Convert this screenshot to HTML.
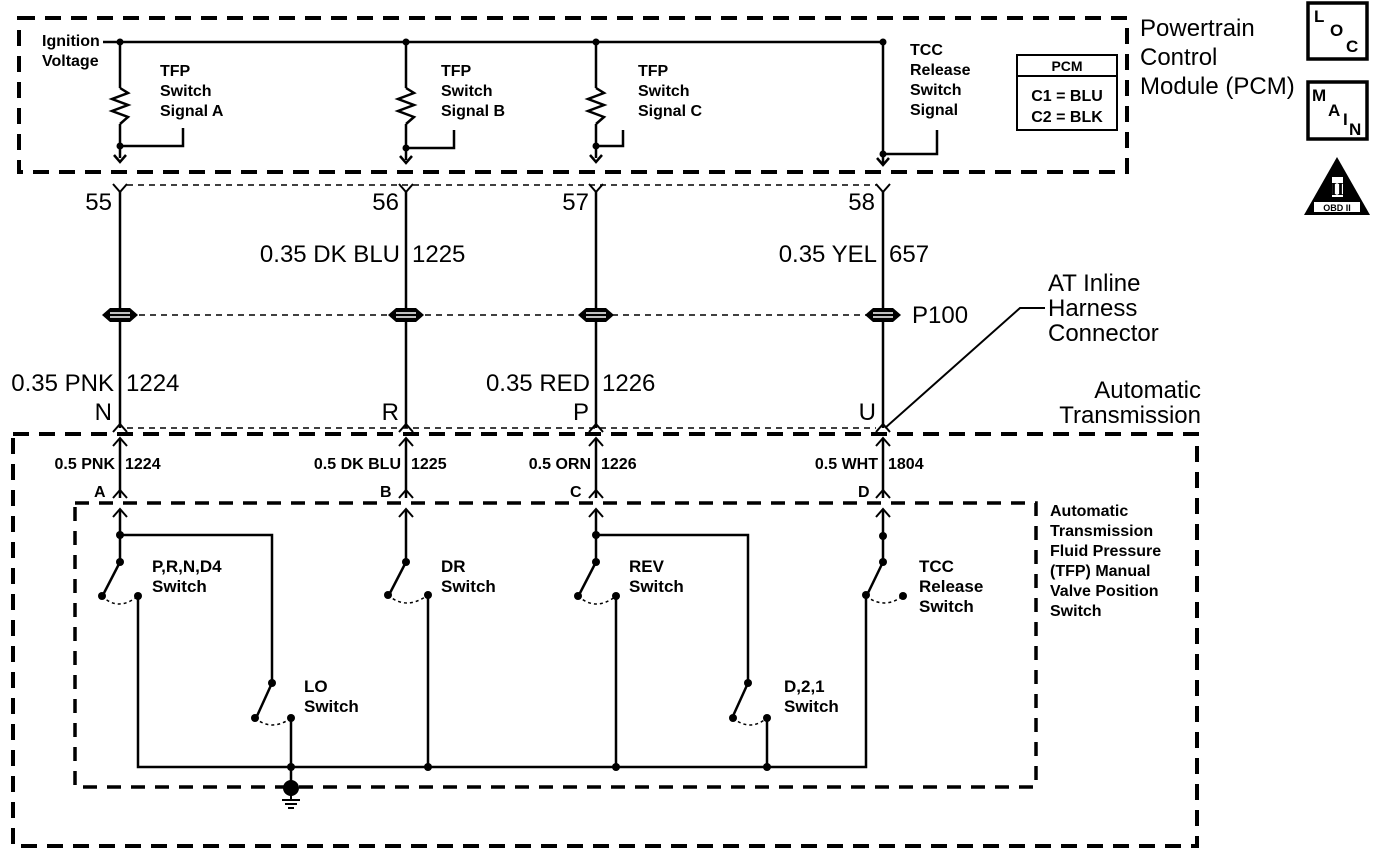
<!DOCTYPE html>
<html><head><meta charset="utf-8"><style>
html,body{margin:0;padding:0;background:#fff;}
svg{display:block;font-family:"Liberation Sans",Arial,sans-serif;}
</style></head><body>
<svg width="1392" height="856" viewBox="0 0 1392 856" xmlns="http://www.w3.org/2000/svg">
<g fill="none" stroke="#000">
<path d="M19 18 H1127 V172 H19 Z" stroke-width="4" stroke-dasharray="16 10"/>
<path d="M103 42 H883" stroke-width="2.5"/>
<g stroke-width="2.5">
<path d="M120 42 V88 M120 124 V158"/>
<path d="M406 42 V88 M406 124 V160"/>
<path d="M596 42 V88 M596 124 V158"/>
<path d="M883 42 V165"/>
<path d="M120 146 H183 V128"/>
<path d="M406 148 H454 V130"/>
<path d="M596 146 H623 V130"/>
<path d="M883 154 H937 V130"/>
</g>
<g stroke-width="2.5">
<path d="M120 88 L128 93 L112 99 L128 105 L112 111 L128 117 L120 124"/>
<path d="M406 88 L414 93 L398 99 L414 105 L398 111 L414 117 L406 124"/>
<path d="M596 88 L604 93 L588 99 L604 105 L588 111 L604 117 L596 124"/>
</g>
<g stroke-width="2.5">
<path d="M114 155 L120 162 L126 155"/>
<path d="M400 156 L406 163 L412 156"/>
<path d="M590 155 L596 162 L602 155"/>
<path d="M877 158 L883 165 L889 158"/>
</g>
<path d="M127 185 H876" stroke-width="1.5" stroke-dasharray="6 5"/>
<g stroke-width="2">
<path d="M113 184 L120 192 L127 184"/>
<path d="M399 184 L406 192 L413 184"/>
<path d="M589 184 L596 192 L603 184"/>
<path d="M876 184 L883 192 L890 184"/>
</g>
<g stroke-width="2.5">
<path d="M120 192 V428"/>
<path d="M406 192 V428"/>
<path d="M596 192 V428"/>
<path d="M883 192 V428"/>
</g>
<path d="M128 315 H870" stroke-width="1.5" stroke-dasharray="6 5"/>
<path d="M885 428 L1020 308 H1045" stroke-width="2"/>
<path d="M13 434 H1197 V846 H13 Z" stroke-width="4" stroke-dasharray="16 10"/>
<path d="M127 428 H876" stroke-width="1.5" stroke-dasharray="6 5"/>
<g stroke-width="2">
<path d="M113 432 L120 424 L127 432"/>
<path d="M399 432 L406 424 L413 432"/>
<path d="M589 432 L596 424 L603 432"/>
<path d="M876 432 L883 424 L890 432"/>
<path d="M113 446 L120 438 L127 446"/>
<path d="M399 446 L406 438 L413 446"/>
<path d="M589 446 L596 438 L603 446"/>
<path d="M876 446 L883 438 L890 446"/>
</g>
<g stroke-width="2.5">
<path d="M120 438 V498 M406 438 V498 M596 438 V498 M883 438 V498"/>
</g>
<g stroke-width="2">
<path d="M113 498 L120 490 L127 498"/>
<path d="M399 498 L406 490 L413 498"/>
<path d="M589 498 L596 490 L603 498"/>
<path d="M876 498 L883 490 L890 498"/>
<path d="M113 517 L120 509 L127 517"/>
<path d="M399 517 L406 509 L413 517"/>
<path d="M589 517 L596 509 L603 517"/>
<path d="M876 517 L883 509 L890 517"/>
</g>
<path d="M75 503 H1036 V787 H75 Z" stroke-width="3.5" stroke-dasharray="14 10"/>
<g stroke-width="2.5">
<path d="M120 509 V562 M406 509 V562 M596 509 V562 M883 509 V562"/>
<path d="M120 535 H272 V683"/>
<path d="M596 535 H748 V683"/>
<path d="M138 596 V767 H866 V595"/>
<path d="M291 718 V788"/>
<path d="M428 595 V767"/>
<path d="M616 596 V767"/>
<path d="M767 718 V767"/>
<path d="M120 562 L104 593"/>
<path d="M406 562 L390 593"/>
<path d="M596 562 L580 593"/>
<path d="M883 562 L868 593"/>
<path d="M272 683 L257 716"/>
<path d="M748 683 L733 716"/>
</g>
<g stroke-width="1.5" stroke-dasharray="3 3">
<path d="M102 596 Q118 612 138 596"/>
<path d="M388 595 Q406 611 428 595"/>
<path d="M578 596 Q596 612 616 596"/>
<path d="M866 596 Q884 610 903 596"/>
<path d="M255 718 Q272 732 291 718"/>
<path d="M733 718 Q750 732 767 718"/>
</g>
<g stroke-width="2"><path d="M282 800 H300 M285 804 H297 M288 808 H294"/><path d="M291 790 V800"/></g>
<rect x="1017" y="55" width="100" height="75" stroke-width="2"/>
<path d="M1017 76 H1117" stroke-width="2"/>
<rect x="1308" y="3" width="59" height="56" stroke-width="3.5"/>
<rect x="1308" y="82" width="59" height="57" stroke-width="3.5"/>
</g>
<g fill="#000">
<g><path d="M102 315 L110 308 H130 L138 315 L130 322 H110 Z"/><path d="M110 313 H130 M110 317 H130" stroke="#fff" stroke-width="1.5"/></g>
<g transform="translate(286,0)"><path d="M102 315 L110 308 H130 L138 315 L130 322 H110 Z"/><path d="M110 313 H130 M110 317 H130" stroke="#fff" stroke-width="1.5"/></g>
<g transform="translate(476,0)"><path d="M102 315 L110 308 H130 L138 315 L130 322 H110 Z"/><path d="M110 313 H130 M110 317 H130" stroke="#fff" stroke-width="1.5"/></g>
<g transform="translate(763,0)"><path d="M102 315 L110 308 H130 L138 315 L130 322 H110 Z"/><path d="M110 313 H130 M110 317 H130" stroke="#fff" stroke-width="1.5"/></g>
<circle cx="120" cy="42" r="3.5"/><circle cx="406" cy="42" r="3.5"/><circle cx="596" cy="42" r="3.5"/><circle cx="883" cy="42" r="3.5"/>
<circle cx="120" cy="146" r="3.5"/><circle cx="406" cy="148" r="3.5"/><circle cx="596" cy="146" r="3.5"/><circle cx="883" cy="154" r="3.5"/>
<circle cx="120" cy="535" r="4"/><circle cx="596" cy="535" r="4"/><circle cx="883" cy="536" r="4"/>
<circle cx="120" cy="562" r="4"/><circle cx="406" cy="562" r="4"/><circle cx="596" cy="562" r="4"/><circle cx="883" cy="562" r="4"/>
<circle cx="102" cy="596" r="4"/><circle cx="138" cy="596" r="4"/>
<circle cx="388" cy="595" r="4"/><circle cx="428" cy="595" r="4"/>
<circle cx="578" cy="596" r="4"/><circle cx="616" cy="596" r="4"/>
<circle cx="866" cy="595" r="4"/><circle cx="903" cy="596" r="4"/>
<circle cx="272" cy="683" r="4"/><circle cx="255" cy="718" r="4"/><circle cx="291" cy="718" r="4"/>
<circle cx="748" cy="683" r="4"/><circle cx="733" cy="718" r="4"/><circle cx="767" cy="718" r="4"/>
<circle cx="291" cy="767" r="4"/><circle cx="428" cy="767" r="4"/><circle cx="616" cy="767" r="4"/><circle cx="767" cy="767" r="4"/>
<circle cx="291" cy="788" r="8"/>
<path d="M1337 157 L1370 215 H1304 Z"/>
</g>
<rect x="1314" y="202" width="46" height="10" fill="#fff"/>
<text x="1337" y="211" font-size="9" font-weight="bold" text-anchor="middle">OBD II</text>
<rect x="1332" y="177" width="11" height="20" fill="#fff"/>
<text x="1337" y="195" font-size="18" font-weight="bold" text-anchor="middle" font-family="Liberation Serif">II</text>
<g font-size="16" font-weight="bold" fill="#000">
<text x="42" y="46">Ignition</text><text x="42" y="66">Voltage</text>
<text x="160" y="76">TFP</text><text x="160" y="96">Switch</text><text x="160" y="116">Signal A</text>
<text x="441" y="76">TFP</text><text x="441" y="96">Switch</text><text x="441" y="116">Signal B</text>
<text x="638" y="76">TFP</text><text x="638" y="96">Switch</text><text x="638" y="116">Signal C</text>
<text x="910" y="55">TCC</text><text x="910" y="75">Release</text><text x="910" y="95">Switch</text><text x="910" y="115">Signal</text>
<text x="1067" y="71" font-size="14" text-anchor="middle">PCM</text>
<text x="1067" y="101" text-anchor="middle">C1 = BLU</text>
<text x="1067" y="122" text-anchor="middle">C2 = BLK</text>
<text x="1050" y="516">Automatic</text><text x="1050" y="536">Transmission</text>
<text x="1050" y="556">Fluid Pressure</text><text x="1050" y="576">(TFP) Manual</text>
<text x="1050" y="596">Valve Position</text><text x="1050" y="616">Switch</text>
</g>
<g font-size="17" font-weight="bold">
<text x="152" y="572">P,R,N,D4</text><text x="152" y="592">Switch</text>
<text x="441" y="572">DR</text><text x="441" y="592">Switch</text>
<text x="629" y="572">REV</text><text x="629" y="592">Switch</text>
<text x="919" y="572">TCC</text><text x="919" y="592">Release</text><text x="919" y="612">Switch</text>
<text x="304" y="692">LO</text><text x="304" y="712">Switch</text>
<text x="784" y="692">D,2,1</text><text x="784" y="712">Switch</text>
</g>
<g font-size="16" font-weight="bold">
<text x="115" y="469" text-anchor="end">0.5 PNK</text><text x="125" y="469">1224</text>
<text x="401" y="469" text-anchor="end">0.5 DK BLU</text><text x="411" y="469">1225</text>
<text x="591" y="469" text-anchor="end">0.5 ORN</text><text x="601" y="469">1226</text>
<text x="878" y="469" text-anchor="end">0.5 WHT</text><text x="888" y="469">1804</text>
<text x="94" y="497">A</text><text x="380" y="497">B</text><text x="570" y="497">C</text><text x="858" y="497">D</text>
</g>
<g font-size="24">
<text x="1140" y="36">Powertrain</text><text x="1140" y="65">Control</text><text x="1140" y="94">Module (PCM)</text>
<text x="1048" y="291">AT Inline</text><text x="1048" y="316">Harness</text><text x="1048" y="341">Connector</text>
<text x="1201" y="398" text-anchor="end">Automatic</text><text x="1201" y="423" text-anchor="end">Transmission</text>
<text x="912" y="323">P100</text>
<text x="112" y="210" text-anchor="end">55</text><text x="399" y="210" text-anchor="end">56</text>
<text x="589" y="210" text-anchor="end">57</text><text x="875" y="210" text-anchor="end">58</text>
<text x="400" y="262" text-anchor="end">0.35 DK BLU</text><text x="412" y="262">1225</text>
<text x="877" y="262" text-anchor="end">0.35 YEL</text><text x="889" y="262">657</text>
<text x="114" y="391" text-anchor="end">0.35 PNK</text><text x="126" y="391">1224</text>
<text x="590" y="391" text-anchor="end">0.35 RED</text><text x="602" y="391">1226</text>
<text x="112" y="420" text-anchor="end">N</text><text x="399" y="420" text-anchor="end">R</text>
<text x="589" y="420" text-anchor="end">P</text><text x="876" y="420" text-anchor="end">U</text>
</g>
<g font-size="17" font-weight="bold">
<text x="1314" y="22">L</text><text x="1330" y="36">O</text><text x="1346" y="52">C</text>
<text x="1312" y="101">M</text><text x="1328" y="116">A</text><text x="1343" y="125">I</text><text x="1349" y="135">N</text>
</g>
</svg>
</body></html>
